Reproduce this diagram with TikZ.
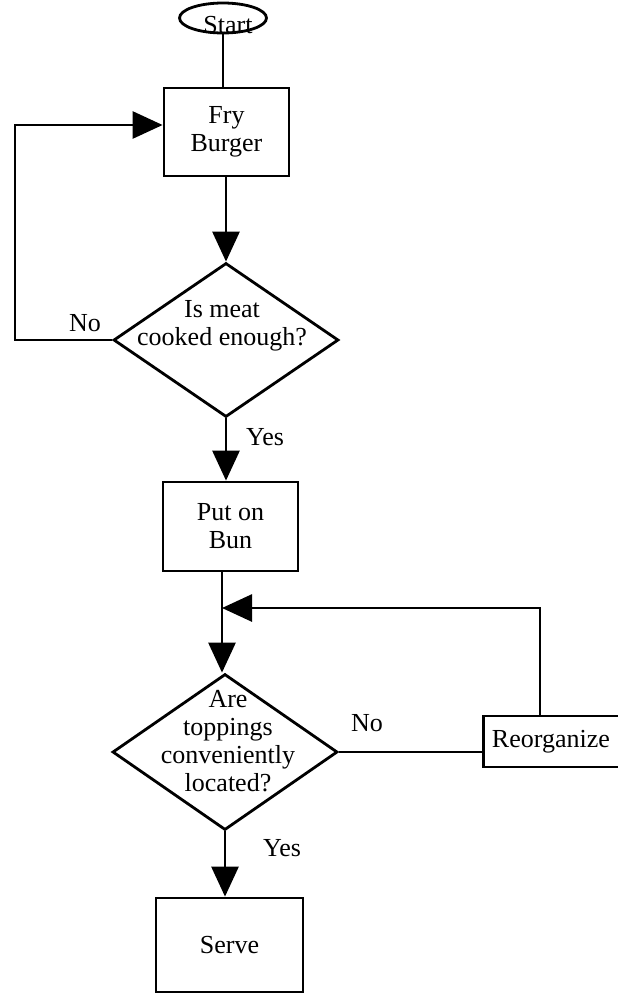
\documentclass[tikz,border=0pt]{standalone}
\usepackage{fontspec}
\setmainfont{Liberation Serif}
\usetikzlibrary{shapes.geometric,arrows.meta,calc}
\tikzset{
  ln/.style={line width=2.8pt},
  arr/.style={ln,-{Triangle[length=30pt,width=27pt]}},
  boxnode/.style={draw,ln,rectangle,inner sep=0pt,align=center,font=\fontsize{26}{28}\selectfont},
  dnode/.style={draw,ln,diamond,inner sep=0pt},
  txt/.style={inner sep=0pt,align=center,font=\fontsize{26}{28}\selectfont},
  lbl/.style={inner sep=0pt,font=\fontsize{26}{28}\selectfont}
}
\begin{document}
\begin{tikzpicture}[x=1pt,y=-1pt]
\useasboundingbox (0,0) rectangle (618,994);
% start
\node[draw,ln,ellipse,minimum width=87pt,minimum height=30pt,inner sep=0pt] (start) at (223,18) {};
\node[lbl,anchor=base] (starttxt) at (228,33) {Start};
% boxes
\node[boxnode,minimum width=125pt,minimum height=88pt] (fry) at (226.5,132) {Fry\\Burger};
\node[dnode,minimum width=225pt,minimum height=154pt] (d1) at (226,340) {};
\node[txt] (d1txt) at (222,326) {Is meat\\cooked enough?};
\node[boxnode,minimum width=135pt,minimum height=89pt] (bun) at (230.5,526.5) {Put on\\Bun};
\node[dnode,minimum width=225pt,minimum height=156pt] (d2) at (225,752) {};
\node[txt,align=center] (d2txt) at (228,741) {Are\\toppings\\conveniently\\located?};
\node[boxnode,minimum width=138pt,minimum height=51pt,anchor=west] (reorg) at (482,741.5) {\hspace*{-3pt}Reorganize};
\node[boxnode,minimum width=147pt,minimum height=94pt] (serve) at (229.5,945) {Serve};
% labels
\node[lbl] (no1) at (85,323) {No};
\node[lbl] (yes1) at (265,437) {Yes};
\node[lbl] (no2) at (367,723) {No};
\node[lbl] (yes2) at (282,848) {Yes};
% coordinates
\coordinate (lp) at (15,125);
\coordinate (rturn) at (540,608);
\coordinate (merge) at (222,608);
% connectors
\draw[ln] (start.south) -- (start.south |- fry.north);
\draw[arr] (fry.south -| d1.north) -- (d1.north);
\draw[arr] (d1.west) -| (lp) -- (fry.west |- lp);
\draw[arr] (d1.south) -- (d1.south |- bun.north);
\draw[ln] (bun.south -| merge) -- (merge);
\draw[arr] (merge) -- (d2.north -| merge);
\draw[arr] (reorg.north -| rturn) -- (rturn) -- (merge);
\draw[ln] (d2.east) -- (d2.east -| reorg.west);
\draw[arr] (d2.south) -- (d2.south |- serve.north);
\end{tikzpicture}
\end{document}
